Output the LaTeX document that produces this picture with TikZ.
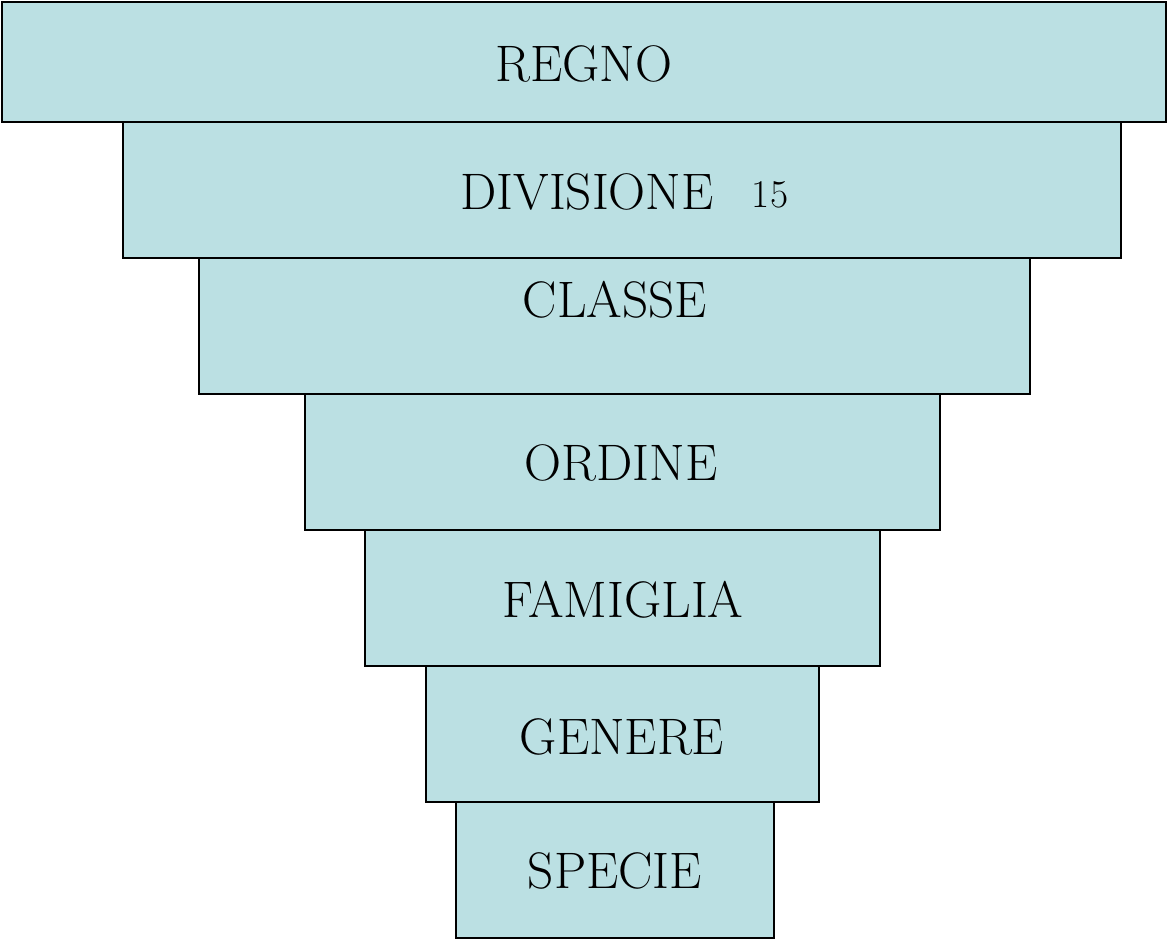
\documentclass[tikz,border=0pt]{standalone}
\usepackage{tikz}

\definecolor{levelfill}{HTML}{BBE0E3}

\begin{document}
\begin{tikzpicture}[x=0.025cm,y=-0.025cm]
	\tikzstyle{level}=[draw=black,fill=levelfill,line width=1.1pt,inner sep=0pt,minimum height=3.4cm]
	\tikzstyle{rank}=[anchor=base,inner sep=0pt,font=\fontsize{36.5}{42}\selectfont]

	\useasboundingbox (0,0) rectangle (1168,939);

	\node[level,minimum width=29.1cm,minimum height=3cm](regno) at (584,62){};
	\node[level,minimum width=24.95cm](divisione) at (622,190){};
	\node[level,minimum width=20.775cm](classe) at (614.5,326){};
	\node[level,minimum width=15.875cm](ordine) at (622.5,462){};
	\node[level,minimum width=12.875cm](famiglia) at (622.5,598){};
	\node[level,minimum width=9.825cm](genere) at (622.5,734){};
	\node[level,minimum width=7.95cm](specie) at (615,870){};

	\node[rank](tregno) at (584,82){REGNO};
	\node[rank](tdivisione) at (587,209){DIVISIONE};
	\node[rank,font=\fontsize{28}{32}\selectfont](tnum) at (770,207){15};
	\node[rank](tclasse) at (615,317){CLASSE};
	\node[rank](tordine) at (621,480){ORDINE};
	\node[rank](tfamiglia) at (623,617){FAMIGLIA};
	\node[rank](tgenere) at (622,754){GENERE};
	\node[rank](tspecie) at (615,888){SPECIE};
\end{tikzpicture}
\end{document}
